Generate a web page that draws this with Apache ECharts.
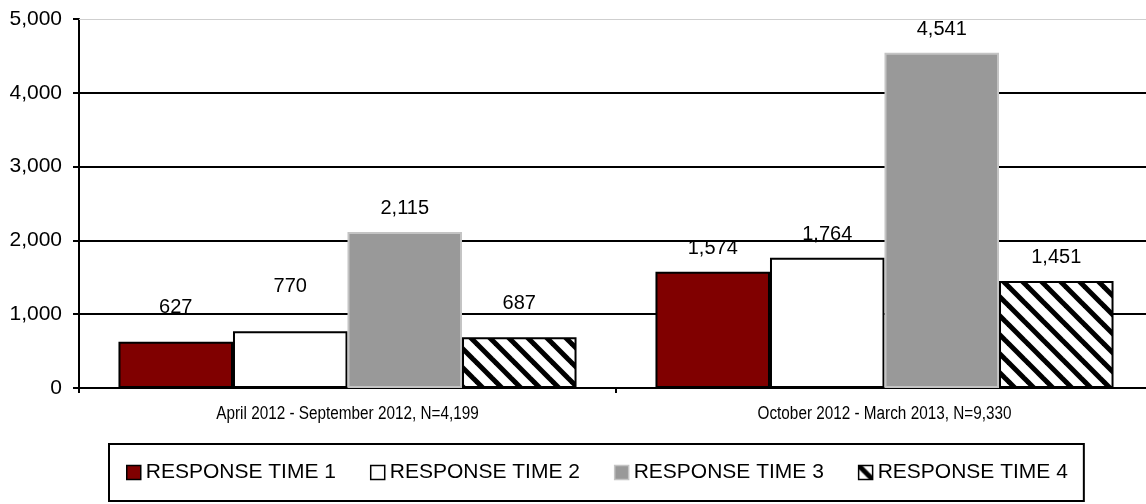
<!DOCTYPE html>
<html><head><meta charset="utf-8">
<script src="https://cdn.jsdelivr.net/npm/echarts@6/dist/echarts.min.js"></script>
<style>html,body{margin:0;padding:0;background:#fff}#c{width:1146px;height:504px}</style>
</head><body><div id="c"></div>
<script>
const categories = ['April 2012 - September 2012, N=4,199', 'October 2012 - March 2013, N=9,330'];
const seriesNames = ['RESPONSE TIME 1', 'RESPONSE TIME 2', 'RESPONSE TIME 3', 'RESPONSE TIME 4'];
const responseTime1 = [627, 1574];
const responseTime2 = [770, 1764];
const responseTime3 = [2115, 4541];
const responseTime4 = [687, 1451];
const yTicks = [0, 1000, 2000, 3000, 4000, 5000];

const FONT = "'Liberation Sans', Arial, sans-serif";
const fmt = v => Number(v).toLocaleString('en-US');

function hatch() {
  const s = 19, c = document.createElement('canvas');
  c.width = s; c.height = s;
  const g = c.getContext('2d');
  g.fillStyle = '#fff'; g.fillRect(0, 0, s, s);
  g.strokeStyle = '#000'; g.lineWidth = 5;
  for (const k of [-s, 0, s]) {
    g.beginPath(); g.moveTo(-3, -3 + k); g.lineTo(s + 3, s + 3 + k); g.stroke();
  }
  return c;
}

const styles = [
  { color: '#800000', borderColor: '#000', borderWidth: 2 },
  { color: '#ffffff', borderColor: '#000', borderWidth: 2 },
  { color: '#999999', borderColor: '#c4c4c4', borderWidth: 2 },
  { color: { image: hatch(), repeat: 'repeat' }, borderColor: '#000', borderWidth: 2 }
];
const values = [responseTime1, responseTime2, responseTime3, responseTime4];
// extra lift of a few data labels, as in the reference
const labelLift = { '0-0': 24, '1-0': 35, '3-0': 24 };

const series = values.map((vals, si) => ({
  name: seriesNames[si],
  type: 'bar',
  barGap: '0%',
  barCategoryGap: '14.7%',
  itemStyle: styles[si],
  label: {
    show: true, position: 'top', distance: 13,
    color: '#000', fontSize: 20, fontFamily: FONT,
    formatter: p => fmt(p.value)
  },
  data: vals.map((v, ci) => {
    const d = labelLift[si + '-' + ci];
    return d ? { value: v, label: { distance: d } } : v;
  }),
  markLine: si === 0 ? {
    silent: true, symbol: 'none', label: { show: false },
    lineStyle: { color: '#cfcfcf', width: 1, type: 'solid' },
    data: [{ yAxis: yTicks[yTicks.length - 1] }]
  } : undefined
}));

const chart = echarts.init(document.getElementById('c'), null, { renderer: 'canvas' });
chart.setOption({
  animation: false,
  backgroundColor: '#fff',
  textStyle: { fontFamily: FONT },
  grid: { left: 79, width: 1074, top: 19, bottom: 116, containLabel: false, outerBoundsMode: 'none' },
  legend: {
    data: seriesNames,
    left: 109, top: 444,
    orient: 'horizontal',
    icon: 'rect',
    itemWidth: 14, itemHeight: 14, itemGap: 34,
    padding: [18, 16, 18, 17],
    borderColor: '#000', borderWidth: 2, borderRadius: 0,
    itemStyle: { borderWidth: 1.5 },
    textStyle: { fontSize: 21, color: '#000', fontFamily: FONT }
  },
  xAxis: {
    type: 'category',
    data: categories,
    axisLine: { show: true, lineStyle: { color: '#000', width: 2 } },
    axisTick: { show: true, length: 5, lineStyle: { color: '#000', width: 2 } },
    axisLabel: { show: false },
    splitLine: { show: false }
  },
  yAxis: {
    type: 'value',
    min: yTicks[0], max: yTicks[yTicks.length - 1], interval: yTicks[1] - yTicks[0],
    axisLine: { show: true, lineStyle: { color: '#000', width: 2 } },
    axisTick: { show: true, length: 6, lineStyle: { color: '#000', width: 2 } },
    axisLabel: { color: '#000', fontSize: 21, margin: 17, fontFamily: FONT, formatter: v => fmt(v) },
    splitLine: { show: true, lineStyle: { color: ['#000', '#000', '#000', '#000', '#000', 'rgba(0,0,0,0)'], width: 2 } }
  },
  series: series
});

// Category labels: slightly condensed text placed at the category centres given by the axis scale
const baseY = chart.convertToPixel({ yAxisIndex: 0 }, yTicks[0]);
chart.setOption({
  graphic: categories.map((name, i) => ({
    type: 'text',
    x: chart.convertToPixel({ xAxisIndex: 0 }, name),
    y: baseY + 26,
    scaleX: 0.85,
    style: {
      text: name, fill: '#000', fontSize: 18, fontFamily: FONT,
      align: 'center', verticalAlign: 'middle'
    },
    silent: true
  }))
});
</script>
</body></html>
